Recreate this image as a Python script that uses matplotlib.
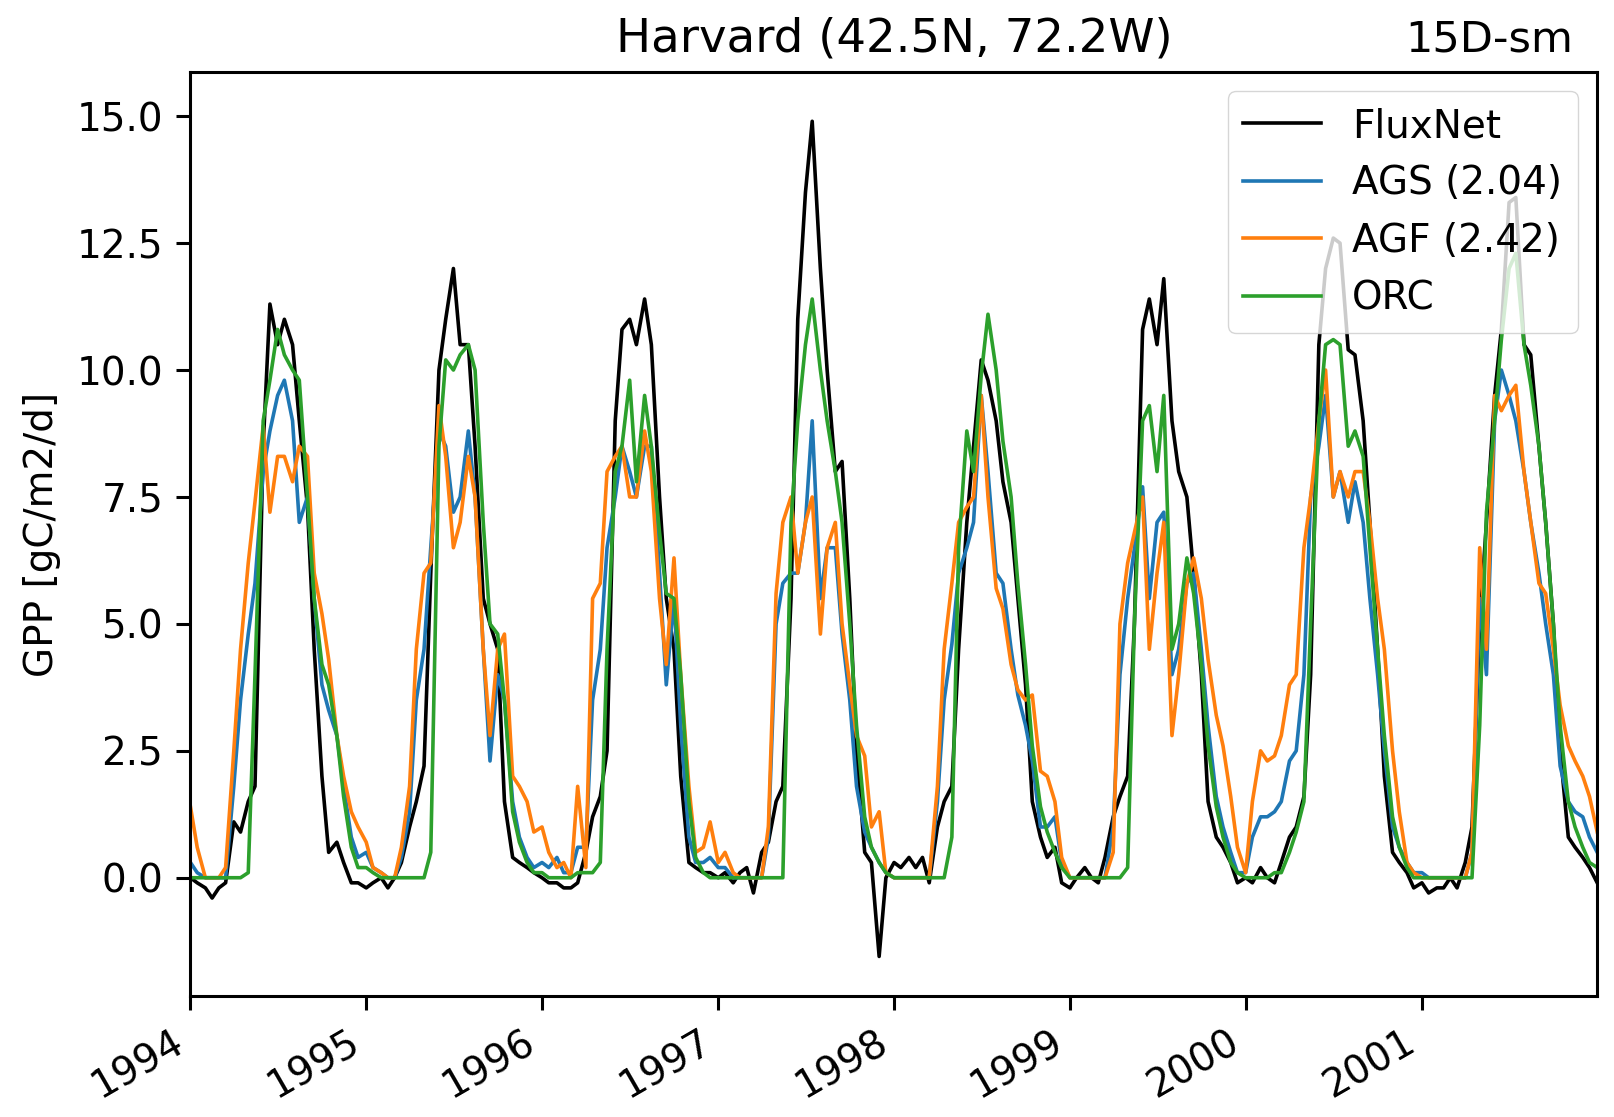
import numpy as np
import pandas as pd
import matplotlib
matplotlib.use('Agg')
import matplotlib.pyplot as plt
import matplotlib.dates as mdates

# semi-monthly samples (1st and 15th)
dates = pd.date_range('1994-01-01', '2001-12-31', freq='SMS').append(pd.DatetimeIndex(['2001-12-31']))

fluxnet = [
    0.0, -0.1, -0.2, -0.4, -0.2, -0.1, 1.1, 0.9, 1.5, 1.8, 8.5, 11.3, 10.5, 11.0, 10.5, 9.0, 7.3, 4.5, 2.0, 0.5, 0.7, 0.3, -0.1, -0.1,
    -0.2, -0.1, 0.0, -0.2, 0.0, 0.3, 1.0, 1.5, 2.2, 6.0, 10.0, 11.0, 12.0, 10.5, 10.5, 8.5, 5.5, 5.0, 4.5, 1.5, 0.4, 0.3, 0.2, 0.1,
    0.0, -0.1, -0.1, -0.2, -0.2, -0.1, 0.5, 1.2, 1.6, 2.5, 9.0, 10.8, 11.0, 10.5, 11.4, 10.5, 7.5, 5.5, 4.5, 2.0, 0.3, 0.2, 0.1, 0.1,
    0.0, 0.1, -0.1, 0.1, 0.2, -0.3, 0.5, 0.7, 1.5, 1.8, 5.5, 11.0, 13.5, 14.9, 12.0, 10.0, 8.0, 8.2, 5.5, 2.5, 0.5, 0.3, -1.55, 0.0,
    0.3, 0.2, 0.4, 0.2, 0.4, -0.1, 1.0, 1.5, 1.8, 4.5, 7.0, 8.5, 10.2, 9.8, 9.0, 7.8, 7.0, 5.5, 3.8, 1.5, 0.8, 0.4, 0.6, -0.1,
    -0.2, 0.0, 0.2, 0.0, -0.1, 0.4, 1.2, 1.6, 2.0, 5.0, 10.8, 11.4, 10.5, 11.8, 9.0, 8.0, 7.5, 6.0, 4.0, 1.5, 0.8, 0.6, 0.3, -0.1,
    0.0, -0.1, 0.2, 0.0, -0.1, 0.3, 0.8, 1.0, 1.6, 4.0, 10.5, 12.0, 12.6, 12.5, 10.4, 10.3, 9.0, 7.0, 4.5, 2.0, 0.5, 0.3, 0.1, -0.2,
    -0.1, -0.3, -0.2, -0.2, 0.0, -0.2, 0.3, 1.0, 5.0, 7.0, 9.5, 10.8, 13.3, 13.4, 10.5, 10.3, 8.5, 7.0, 5.0, 2.5, 0.8, 0.6, 0.4, 0.2, -0.1,
]

ags = [
    0.3, 0.1, 0.0, 0.0, 0.0, 0.0, 1.8, 3.5, 4.8, 5.8, 8.0, 8.8, 9.5, 9.8, 9.0, 7.0, 7.5, 5.5, 3.8, 3.3, 2.8, 1.8, 0.8, 0.4,
    0.5, 0.2, 0.1, 0.0, 0.0, 0.4, 1.3, 3.5, 4.5, 6.5, 8.8, 8.5, 7.2, 7.5, 8.8, 7.5, 4.5, 2.3, 4.0, 3.5, 1.5, 0.8, 0.4, 0.2,
    0.3, 0.2, 0.4, 0.1, 0.1, 0.6, 0.6, 3.5, 4.5, 6.5, 7.5, 8.5, 8.0, 7.5, 8.5, 8.5, 6.0, 3.8, 5.5, 3.0, 0.8, 0.3, 0.3, 0.4,
    0.2, 0.2, 0.0, 0.0, 0.0, 0.0, 0.0, 0.8, 5.0, 5.8, 6.0, 6.0, 7.0, 9.0, 5.5, 6.5, 6.5, 4.8, 3.5, 1.8, 0.9, 0.6, 0.3, 0.1,
    0.0, 0.0, 0.0, 0.0, 0.0, 0.0, 1.5, 3.5, 4.6, 6.0, 6.5, 7.0, 9.5, 8.0, 6.0, 5.8, 4.5, 3.6, 3.0, 2.3, 1.0, 1.0, 1.2, 0.3,
    0.0, 0.0, 0.0, 0.0, 0.0, 0.0, 1.0, 4.0, 5.5, 6.5, 7.7, 5.5, 7.0, 7.2, 4.0, 4.5, 5.8, 6.0, 4.5, 3.0, 1.6, 1.0, 0.5, 0.1,
    0.1, 0.8, 1.2, 1.2, 1.3, 1.5, 2.3, 2.5, 4.0, 7.5, 8.5, 9.5, 7.5, 8.0, 7.0, 7.8, 7.0, 5.5, 4.0, 2.5, 1.0, 0.6, 0.3, 0.1,
    0.1, 0.0, 0.0, 0.0, 0.0, 0.0, 0.0, 0.5, 5.5, 4.0, 9.0, 10.0, 9.5, 9.0, 8.0, 7.0, 6.0, 5.0, 4.0, 2.2, 1.5, 1.3, 1.2, 0.8, 0.5,
]

agf = [
    1.4, 0.6, 0.0, 0.0, 0.0, 0.2, 2.5, 4.5, 6.2, 7.4, 8.9, 7.2, 8.3, 8.3, 7.8, 8.5, 8.3, 6.0, 5.2, 4.3, 2.8, 2.0, 1.3, 1.0,
    0.7, 0.2, 0.1, 0.0, 0.0, 0.6, 1.8, 4.5, 6.0, 6.2, 9.3, 8.3, 6.5, 7.0, 8.3, 7.5, 4.5, 2.8, 4.5, 4.8, 2.0, 1.8, 1.5, 0.9,
    1.0, 0.5, 0.2, 0.3, 0.0, 1.8, 0.2, 5.5, 5.8, 8.0, 8.3, 8.5, 7.5, 7.5, 8.8, 8.0, 5.5, 4.2, 6.3, 4.0, 1.8, 0.5, 0.6, 1.1,
    0.3, 0.5, 0.1, 0.0, 0.0, 0.0, 0.0, 1.0, 5.6, 7.0, 7.5, 6.0, 7.0, 7.5, 4.8, 6.5, 7.0, 5.0, 3.8, 2.8, 2.4, 1.0, 1.3, 0.1,
    0.0, 0.0, 0.0, 0.0, 0.0, 0.0, 1.8, 4.5, 5.8, 7.0, 7.3, 7.5, 9.5, 7.5, 5.7, 5.3, 4.2, 3.7, 3.5, 3.6, 2.1, 2.0, 1.5, 0.4,
    0.0, 0.0, 0.0, 0.0, 0.0, 0.0, 0.5, 5.0, 6.2, 6.8, 7.5, 4.5, 6.0, 7.0, 2.8, 4.0, 5.8, 6.3, 5.5, 4.3, 3.2, 2.6, 1.6, 0.6,
    0.1, 1.5, 2.5, 2.3, 2.4, 2.8, 3.8, 4.0, 6.5, 7.5, 9.0, 10.0, 7.5, 8.0, 7.5, 8.0, 8.0, 7.0, 5.5, 4.5, 2.5, 1.3, 0.3, 0.1,
    0.0, 0.0, 0.0, 0.0, 0.0, 0.0, 0.0, 0.5, 6.5, 4.5, 9.5, 9.2, 9.5, 9.7, 8.0, 7.0, 5.8, 5.6, 4.5, 3.4, 2.6, 2.3, 2.0, 1.6, 0.9,
]

orc = [
    0.0, 0.0, 0.0, 0.0, 0.0, 0.0, 0.0, 0.0, 0.1, 4.0, 9.0, 9.8, 10.8, 10.3, 10.0, 9.8, 7.5, 5.5, 4.2, 3.8, 2.8, 1.6, 0.6, 0.2,
    0.2, 0.1, 0.0, 0.0, 0.0, 0.0, 0.0, 0.0, 0.0, 0.5, 8.5, 10.2, 10.0, 10.3, 10.5, 10.0, 7.0, 5.0, 4.8, 3.5, 1.3, 0.7, 0.3, 0.1,
    0.1, 0.0, 0.0, 0.0, 0.0, 0.1, 0.1, 0.1, 0.3, 4.5, 8.0, 8.5, 9.8, 7.8, 9.5, 8.5, 6.8, 5.6, 5.5, 4.0, 1.5, 0.4, 0.1, 0.0,
    0.0, 0.0, 0.0, 0.0, 0.0, 0.0, 0.0, 0.0, 0.0, 0.0, 7.0, 9.0, 10.5, 11.4, 10.0, 9.0, 8.0, 7.0, 5.0, 3.0, 1.2, 0.6, 0.3, 0.1,
    0.0, 0.0, 0.0, 0.0, 0.0, 0.0, 0.0, 0.0, 0.8, 6.5, 8.8, 8.0, 9.9, 11.1, 10.0, 8.6, 7.5, 5.8, 4.2, 2.6, 1.4, 0.9, 0.5, 0.2,
    0.0, 0.0, 0.0, 0.0, 0.0, 0.0, 0.0, 0.0, 0.2, 5.0, 9.0, 9.3, 8.0, 9.5, 4.5, 5.0, 6.3, 5.6, 4.2, 2.6, 1.4, 0.8, 0.3, 0.1,
    0.0, 0.0, 0.0, 0.0, 0.1, 0.1, 0.5, 0.9, 1.5, 5.0, 9.0, 10.5, 10.6, 10.5, 8.5, 8.8, 8.3, 6.5, 4.5, 2.8, 1.2, 0.6, 0.2, 0.0,
    0.0, 0.0, 0.0, 0.0, 0.0, 0.0, 0.0, 0.0, 3.0, 7.2, 9.0, 10.6, 12.0, 12.3, 10.5, 9.7, 8.5, 7.0, 5.0, 3.0, 1.5, 1.0, 0.6, 0.3, 0.2,
]

plt.rcParams['font.size'] = 28

fig = plt.figure(figsize=(16.14, 11.17), dpi=100)
ax = fig.add_axes([0.118, 0.1083, 0.8716, 0.8272])

lw = 2.6
ax.plot(dates, fluxnet, color='k', lw=lw, label='FluxNet')
ax.plot(dates, ags, color='C0', lw=lw, label='AGS (2.04)')
ax.plot(dates, agf, color='C1', lw=lw, label='AGF (2.42)')
ax.plot(dates, orc, color='C2', lw=lw, label='ORC')

ax.set_xlim(pd.Timestamp('1994-01-01'), pd.Timestamp('2001-12-31'))
ax.set_ylim(-2.33, 15.87)
ax.set_yticks([0.0, 2.5, 5.0, 7.5, 10.0, 12.5, 15.0])
ax.xaxis.set_major_locator(mdates.YearLocator())
ax.xaxis.set_major_formatter(mdates.DateFormatter('%Y'))
for lab in ax.get_xticklabels():
    lab.set_rotation(30)
    lab.set_ha('right')

ax.tick_params(length=9.8, width=2.2, pad=9.8, labelsize=28)
for s in ax.spines.values():
    s.set_linewidth(2.2)

ax.set_ylabel('GPP [gC/m2/d]', fontsize=28, labelpad=11)
ax.set_title('Harvard (42.5N, 72.2W)', fontsize=33.6, pad=15)
rt = ax.set_title('15D-sm', loc='right', fontsize=31, pad=15)
rt.set_x(1 - 24 / 1407)

ax.legend(loc='upper right', fontsize=28)

fig.savefig('out.png', dpi=100)
